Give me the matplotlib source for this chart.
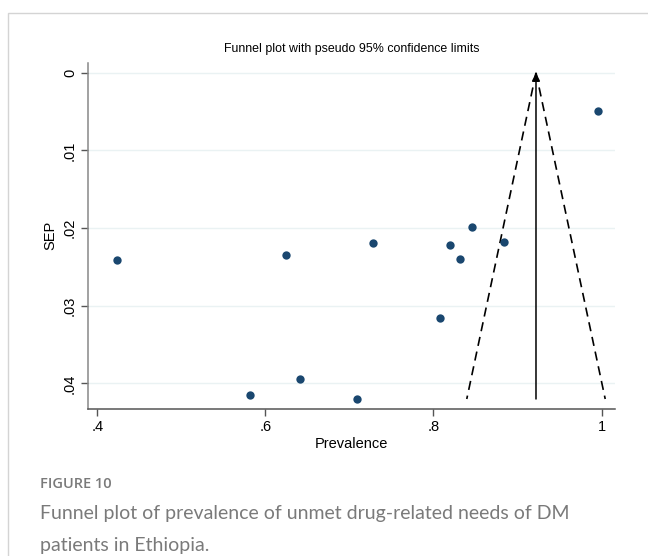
import numpy as np
import matplotlib
matplotlib.use('Agg')
import matplotlib.pyplot as plt
from matplotlib.patches import Rectangle

# study estimates: prevalence and its standard error
prevalence = [0.4235, 0.6243, 0.7286, 0.5818, 0.6418, 0.7096,
              0.8457, 0.8199, 0.8310, 0.8842, 0.8076, 0.9952]
sep = [0.02415, 0.02351, 0.02196, 0.04154, 0.03944, 0.04202,
       0.01986, 0.02214, 0.02403, 0.02175, 0.03155, 0.00488]
pooled = 0.922

xticks = [0.4, 0.6, 0.8, 1.0]
xticklabels = ['.4', '.6', '.8', '1']
yticks = [0, 0.01, 0.02, 0.03, 0.04]
yticklabels = ['0', '.01', '.02', '.03', '.04']

plt.rcParams['font.family'] = ['Liberation Sans', 'DejaVu Sans']

fig = plt.figure(figsize=(6.48, 5.56), dpi=100)
W, H = 648, 556

# card border
fig.patches.append(Rectangle((8 / W, -0.1), 1.2, (H - 13) / H + 0.1,
                             transform=fig.transFigure, fill=False,
                             edgecolor='#d4d4d4', linewidth=1.0))

ax = fig.add_axes([88 / W, 1 - 408.7 / H, (615 - 88) / W, (408.7 - 63) / H])

# pseudo 95% confidence limits
se_max = max(sep)
se_line = np.array([0, se_max])
ax.plot(pooled - 1.96 * se_line, se_line, color='black', lw=1.2,
        linestyle=(0, (5.5, 3.5)))
ax.plot(pooled + 1.96 * se_line, se_line, color='black', lw=1.2,
        linestyle=(0, (5.5, 3.5)))
ax.annotate('', xy=(pooled, 0), xytext=(pooled, se_max),
            arrowprops=dict(arrowstyle='-|>', color='black', lw=1.1,
                            mutation_scale=12, shrinkA=0, shrinkB=0))

ax.scatter(prevalence, sep, s=36, color='#1a476f', zorder=3, linewidths=0)

ax.set_xlim(0.389, 1.016)
ax.set_ylim(0.04327, -0.00126)
ax.set_xticks(xticks)
ax.set_xticklabels(xticklabels)
ax.set_yticks(yticks)
ax.set_yticklabels(yticklabels, rotation=90, va='center')
ax.grid(axis='y', color='#eaf2f3', linewidth=1.0)
ax.set_axisbelow(True)

for side in ['top', 'right']:
    ax.spines[side].set_visible(False)
ax.spines['left'].set_color('#888888')
ax.spines['bottom'].set_color('#555555')
for side in ['left', 'bottom']:
    ax.spines[side].set_linewidth(1.1)
ax.tick_params(axis='both', direction='out', length=5, width=1.0,
               color='#555555', labelsize=10.5, pad=3)

ax.set_xlabel('Prevalence', fontsize=10.5, labelpad=2)
ax.set_ylabel('SEP', fontsize=10.5)
ax.yaxis.set_label_coords(-0.058, 0.5)
ax.set_title('Funnel plot with pseudo 95% confidence limits', fontsize=8.9,
             pad=8)

# caption
cap_color = '#7a7a7a'
fig.text(40 / W, 1 - 484 / H, 'FIGURE 10', fontsize=10.5, color=cap_color,
         family=['Open Sans', 'DejaVu Sans'], fontweight='semibold',
         va='center')
fig.text(40 / W, 1 - 513 / H,
         'Funnel plot of prevalence of unmet drug-related needs of DM',
         fontsize=14, color=cap_color, family=['Lato', 'DejaVu Sans'],
         va='center')
fig.text(40 / W, 1 - 545 / H, 'patients in Ethiopia.',
         fontsize=14, color=cap_color, family=['Lato', 'DejaVu Sans'],
         va='center')

fig.savefig('out.png', dpi=100)
